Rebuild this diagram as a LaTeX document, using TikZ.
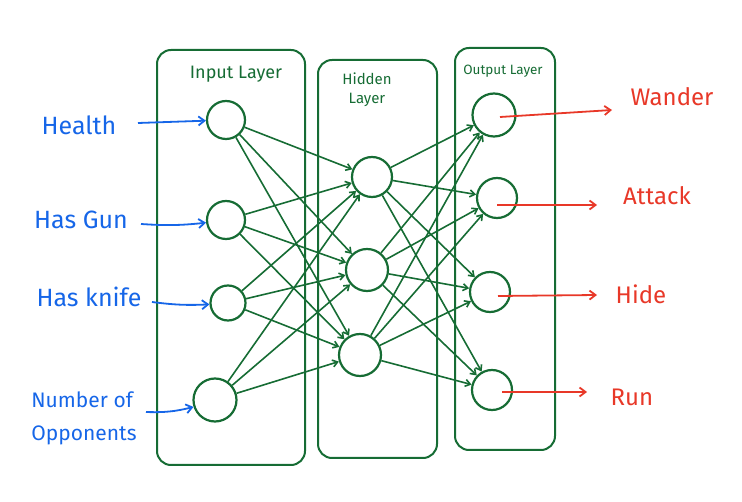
\documentclass[tikz,border=0pt]{standalone}
\usepackage{fontspec}
\setmainfont{Fira Sans}
\usetikzlibrary{arrows.meta}
\definecolor{nngreen}{RGB}{22,108,52}
\definecolor{nnblue}{RGB}{22,102,232}
\definecolor{nnred}{RGB}{232,56,40}
\tikzset{
  layerbox/.style={draw=nngreen,line width=2pt,rounded corners=14pt},
  neuron/.style={circle,draw=nngreen,line width=2.2pt,minimum size=38pt,inner sep=0pt},
  bigneuron/.style={neuron,minimum size=43pt},
  link/.style={draw=nngreen,line width=1.6pt,-{Straight Barb[length=5pt,width=7pt]}},
  inlink/.style={draw=nnblue,line width=1.8pt,-{Straight Barb[length=6pt,width=9pt]}},
  outlink/.style={draw=nnred,line width=1.8pt,-{Straight Barb[length=6pt,width=9pt]}},
  inlabel/.style={text=nnblue,font=\fontsize{25}{27}\selectfont,inner sep=0pt},
  outlabel/.style={text=nnred,font=\fontsize{24}{26}\selectfont,inner sep=0pt},
  layerlabel/.style={text=nngreen,font=\fontsize{18}{20}\selectfont,inner sep=0pt,align=center},
}
\begin{document}
\begin{tikzpicture}[x=1pt,y=-1pt]
\useasboundingbox (0,0) rectangle (742,502);
% layer boxes
\draw[layerbox] (157,50) rectangle (305,465);
\draw[layerbox] (318,60) rectangle (437,458);
\draw[layerbox] (455,48) rectangle (555,450);
\node[layerlabel] (tin) at (236,74) {Input Layer};
\node[layerlabel,font=\fontsize{15}{19}\selectfont] (thid) at (367,90) {Hidden\\Layer};
\node[layerlabel,font=\fontsize{13.5}{15}\selectfont] (tout) at (503,71) {Output Layer};
% neurons
\node[neuron] (i1) at (226,120) {};
\node[neuron] (i2) at (226,220) {};
\node[neuron,minimum size=35pt] (i3) at (228,303) {};
\node[bigneuron] (i4) at (215,400) {};
\node[neuron,minimum size=40pt] (h1) at (372,177) {};
\node[neuron,minimum size=42pt] (h2) at (367,270) {};
\node[neuron,minimum size=42pt] (h3) at (360,355) {};
\node[bigneuron] (o1) at (494,115) {};
\node[neuron,minimum size=40pt] (o2) at (497,198) {};
\node[neuron,minimum size=40pt] (o3) at (490,292) {};
\node[neuron,minimum size=40pt] (o4) at (492,390) {};
% input -> hidden
\foreach \a in {i1,i2,i3,i4}{
  \foreach \b in {h1,h2,h3}{
    \draw[link] (\a) -- (\b);
  }
}
% hidden -> output
\foreach \a in {h1,h2,h3}{
  \foreach \b in {o1,o2,o3,o4}{
    \draw[link] (\a) -- (\b);
  }
}
% inputs
\node[inlabel] (l1) at (79,125) {Health};
\node[inlabel] (l2) at (81,220) {Has Gun};
\node[inlabel] (l3) at (89,297) {Has knife};
\node[inlabel,font=\fontsize{21}{33}\selectfont,align=left] (l4) at (84,418) {Number of\\Opponents};
\coordinate (s1) at (138,123);
\coordinate (s2) at (141,224);
\coordinate (s3) at (152,302);
\coordinate (s4) at (146,412);
\draw[inlink] (s1) -- (i1);
\draw[inlink] (s2) to[bend right=5] (i2);
\draw[inlink] (s3) to[bend right=5] (i3);
\draw[inlink] (s4) to[bend right=8] (i4);
% outputs
\coordinate (e1) at (612,110);
\coordinate (e2) at (597,205);
\coordinate (e3) at (597,295);
\coordinate (e4) at (587,392);
\draw[outlink] (o1.center) ++(6,2) -- (e1);
\draw[outlink] (o2.center) ++(0,7) -- (e2);
\draw[outlink] (o3.center) ++(8,4) -- (e3);
\draw[outlink] (o4.center) ++(10,2) -- (e4);
\node[outlabel] (r1) at (672,97) {Wander};
\node[outlabel] (r2) at (657,196) {Attack};
\node[outlabel] (r3) at (641,294) {Hide};
\node[outlabel] (r4) at (632,397) {Run};
\end{tikzpicture}
\end{document}
